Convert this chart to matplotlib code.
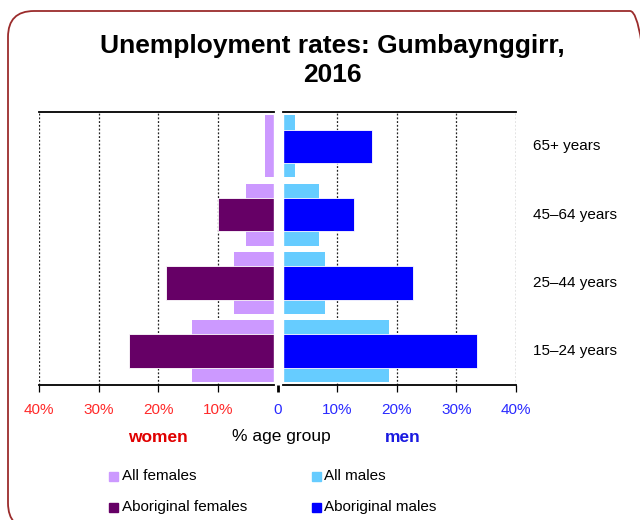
import matplotlib
matplotlib.use("Agg")
import matplotlib.pyplot as plt
from matplotlib.patches import FancyBboxPatch, Rectangle
import matplotlib.transforms as mtransforms

plt.rcParams['font.family'] = ['Liberation Sans', 'DejaVu Sans']

# ---- data ----
categories = ['15–24 years', '25–44 years', '45–64 years', '65+ years']
all_females = [14.3, 7.3, 5.3, 2.2]
aboriginal_females = [25.0, 18.8, 10.0, 0.0]
all_males = [18.7, 8.0, 6.9, 2.9]
aboriginal_males = [33.5, 22.7, 12.8, 15.8]
tick_values = [-40, -30, -20, -10, 0, 10, 20, 30, 40]
tick_labels = ['40%', '30%', '20%', '10%', '0', '10%', '20%', '30%', '40%']
legend_labels = ['All females', 'All males', 'Aboriginal females', 'Aboriginal males']

c_allf = '#CC99FF'
c_abf = '#660066'
c_allm = '#66CCFF'
c_abm = '#0000FF'
red = '#FF2A2A'
blue = '#2A2AFF'

W, H = 640, 520
fig = plt.figure(figsize=(6.4, 5.2), dpi=100)

# rounded border (pixel coordinates, origin bottom-left)
border = FancyBboxPatch((8, -9), 648, 518,
                        boxstyle="round,pad=0,rounding_size=26",
                        transform=mtransforms.IdentityTransform(), fill=False,
                        edgecolor='#9B2C2C', linewidth=1.3)
fig.patches.append(border)

# axes
x0, x1 = 39.3, 516.0
ytop, ybot = 112.3, 385.3
ax = fig.add_axes([x0 / W, 1 - ybot / H, (x1 - x0) / W, (ybot - ytop) / H])
ax.set_xlim(-40, 40)
ax.set_ylim(-0.5, 3.5)

ypos = list(range(len(categories)))
ax.barh(ypos, [-v for v in all_females], height=0.91, color=c_allf, zorder=2)
ax.barh(ypos, all_males, height=0.91, color=c_allm, zorder=2)
ax.barh(ypos, [-v for v in aboriginal_females], height=0.49, color=c_abf,
        edgecolor='#ffffff', linewidth=0.6, zorder=3)
ax.barh(ypos, aboriginal_males, height=0.49, color=c_abm,
        edgecolor='#ffffff', linewidth=0.6, zorder=3)

# gridlines
for v in tick_values:
    if v == 0:
        continue
    ax.axvline(v, color='#222222', linestyle=(0, (1.5, 1.5)), linewidth=0.9, zorder=1)

# central white separator
gap_l, gap_r = -0.64, 0.87
ax.axvspan(gap_l, gap_r, color='white', zorder=4)

for s in ax.spines.values():
    s.set_visible(False)
trans = mtransforms.blended_transform_factory(ax.transData, ax.transAxes)
for yy in (0, 1):
    ax.plot([-40, gap_l], [yy, yy], color='black', lw=1.3, transform=trans, clip_on=False, zorder=5)
    ax.plot([gap_r, 40], [yy, yy], color='black', lw=1.3, transform=trans, clip_on=False, zorder=5)

ax.set_yticks([])
ax.set_xticks(tick_values)
ax.set_xticklabels(tick_labels, fontsize=11)
ax.tick_params(axis='x', length=5, width=0.9, color='black', pad=8)
for lbl, v in zip(ax.get_xticklabels(), tick_values):
    lbl.set_color(red if v < 0 else blue)
ax.xaxis.get_major_ticks()[4].tick1line.set_color('#888888')
ax.xaxis.get_major_ticks()[4].tick1line.set_markeredgewidth(2)

# category labels on the right
for yv, cat in zip(ypos, categories):
    ax.text(532.7 / W, yv, cat, transform=mtransforms.blended_transform_factory(fig.transFigure, ax.transData),
            fontsize=11, va='center', ha='left', color='black')

# title
fig.text(332 / W, 1 - 46 / H, 'Unemployment rates: Gumbaynggirr,', fontsize=19,
         fontweight='bold', ha='center', va='center')
fig.text(332 / W, 1 - 75 / H, '2016', fontsize=19, fontweight='bold',
         ha='center', va='center')

# axis captions
fig.text(158 / W, 1 - 437 / H, 'women', fontsize=12.5, fontweight='bold', color='#E00000',
         ha='center', va='center')
fig.text(281 / W, 1 - 437 / H, '% age group', fontsize=12.5, color='black',
         ha='center', va='center')
fig.text(403 / W, 1 - 437 / H, 'men', fontsize=12.5, fontweight='bold', color='#1A1AE0',
         ha='center', va='center')

# legend
leg_colors = [c_allf, c_allm, c_abf, c_abm]
leg_pos = [(109, 476), (312, 476), (109, 507), (312, 507)]
for (lx, ly), col, lab in zip(leg_pos, leg_colors, legend_labels):
    fig.patches.append(Rectangle((lx / W, 1 - (ly + 4.5) / H), 9 / W, 9 / H,
                                 transform=fig.transFigure, color=col))
    fig.text((lx + 12.5) / W, 1 - ly / H, lab, fontsize=11, ha='left', va='center')

fig.savefig('out.png', dpi=100)
